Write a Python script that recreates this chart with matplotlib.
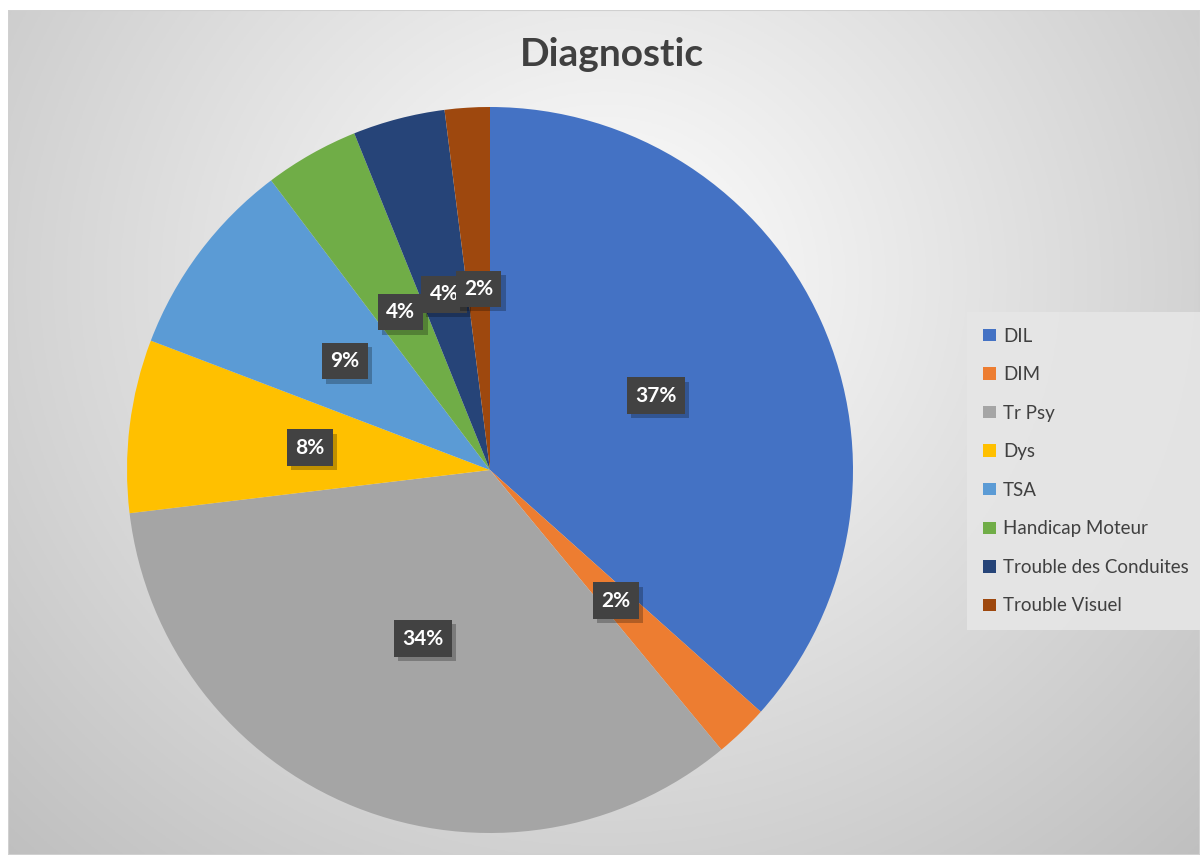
import numpy as np
import matplotlib.pyplot as plt
from matplotlib.patches import Rectangle
import matplotlib.patheffects as pe

# Data (shares)
categories = ["DIL", "DIM", "Tr Psy", "Dys", "TSA", "Handicap Moteur",
              "Trouble des Conduites", "Trouble Visuel"]
values = [36.6, 2.4, 34.1, 7.7, 8.9, 4.2, 4.1, 2.0]
colors = ["#4472C4", "#ED7D31", "#A5A5A5", "#FFC000", "#5B9BD5", "#70AD47",
          "#264478", "#9E480E"]

plt.rcParams['font.family'] = ['Lato', 'DejaVu Sans']

W, H = 1200, 855
fig = plt.figure(figsize=(W / 100, H / 100), dpi=100)
fig.patch.set_facecolor("white")

# Chart area background with radial gradient
x0, y0 = 8, 10
bg = fig.add_axes([x0 / W, 0, 1 - x0 / W, 1 - y0 / H])
bg.set_axis_off()
gx, gy = np.meshgrid(np.linspace(0, 1, 400), np.linspace(0, 1, 300))
cx, cy = 0.5, 0.68
d = np.sqrt(((gx - cx) / 0.72) ** 2 + ((gy - cy) / 0.95) ** 2)
d = np.clip(d, 0, 1)
shade = 1.0 - 0.25 * d
img = np.dstack([shade, shade, shade])
bg.imshow(img, extent=[0, 1, 0, 1], origin="lower", aspect="auto")
bg.set_xlim(0, 1)
bg.set_ylim(0, 1)
bg.add_patch(Rectangle((0, 0), 1, 1, transform=bg.transAxes, fill=False,
                       edgecolor="#d0d0d0", linewidth=1.5))

# Pie
cxp, cyp, r = 490, 470, 363
ax = fig.add_axes([(cxp - r) / W, (H - cyp - r) / H, 2 * r / W, 2 * r / H])
ax.set_axis_off()
wedges, texts, autotexts = ax.pie(values, colors=colors, startangle=90,
                                  counterclock=False, autopct="%1.0f%%",
                                  pctdistance=0.5, radius=1,
                                  wedgeprops=dict(linewidth=0))
ax.set_xlim(-1, 1)
ax.set_ylim(-1, 1)

for t in autotexts:
    t.set_color("white")
    t.set_fontweight("bold")
    t.set_fontsize(15)
    t.set_bbox(dict(boxstyle="square,pad=0.4", facecolor="#424242",
                    edgecolor="none", linewidth=0))
    t.get_bbox_patch().set_path_effects([
        pe.SimplePatchShadow(offset=(3, -3), shadow_rgbFace="black", alpha=0.25),
        pe.Normal()])

fig.text(612 / W, 1 - 55 / H, "Diagnostic", ha="center", va="center",
         fontsize=28, fontweight="bold", color="#404040")

leg = fig.legend(wedges, categories, loc="center left",
                 bbox_to_anchor=(973 / W, 1 - 471 / H), frameon=True,
                 fontsize=13.5, labelcolor="#404040", handlelength=0.65,
                 handleheight=0.65, handletextpad=0.4, labelspacing=1.15,
                 borderpad=0.55, borderaxespad=0)
frame = leg.get_frame()
frame.set_facecolor("#e6e6e6")
frame.set_edgecolor("none")
frame.set_alpha(0.9)
frame.set_boxstyle("square")

fig.savefig("out.png", dpi=100)
